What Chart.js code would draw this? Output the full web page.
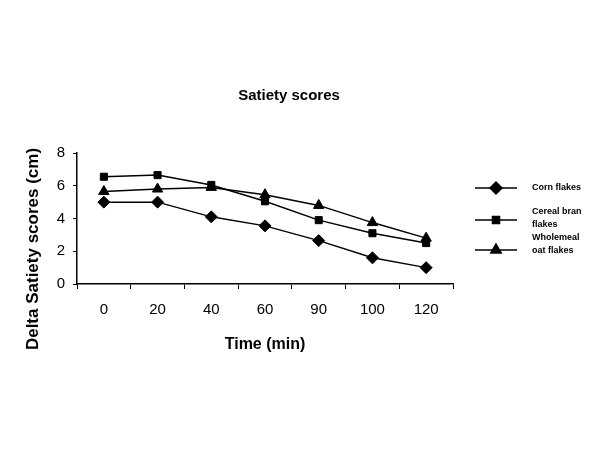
<!DOCTYPE html>
<html>
<head>
<meta charset="utf-8">
<script src="https://cdn.jsdelivr.net/npm/chart.js@4"></script>
<style>
  body { margin: 0; background: #fff; }
  #wrap { width: 600px; height: 450px; }
</style>
</head>
<body>
<div id="wrap"><canvas id="chart" width="600" height="450"></canvas></div>
<script>
// data
const times = ['0', '20', '40', '60', '90', '100', '120'];
const cornFlakes = [5.0, 5.0, 4.1, 3.55, 2.65, 1.6, 1.0];
const cerealBran = [6.55, 6.65, 6.05, 5.05, 3.9, 3.1, 2.5];
const wholemealOat = [5.65, 5.8, 5.9, 5.45, 4.8, 3.75, 2.8];
const legendLines = [['Corn flakes'], ['Cereal bran', 'flakes'], ['Wholemeal', 'oat flakes']];

const font = "Arial, 'Liberation Sans', sans-serif";

function makeSet(label, data, style) {
  return {
    label: label,
    data: data,
    borderColor: '#000',
    backgroundColor: '#000',
    borderWidth: 1.5,
    pointStyle: style,
    pointRadius: style === 'rect' ? 5 : 6,
    pointBorderWidth: 1,
    tension: 0
  };
}

// titles and legend drawn by hand, the original has them off-centre
const extras = {
  id: 'extras',
  afterDraw(chart) {
    const ctx = chart.ctx;
    ctx.save();
    ctx.fillStyle = '#000';
    ctx.textAlign = 'center';
    ctx.textBaseline = 'middle';
    ctx.font = 'bold 15px ' + font;
    ctx.fillText('Satiety scores', 289, 96);
    ctx.font = 'bold 16px ' + font;
    ctx.fillText('Time (min)', 265, 345);
    ctx.save();
    ctx.translate(33, 249);
    ctx.rotate(-Math.PI / 2);
    ctx.font = 'bold 17px ' + font;
    ctx.fillText('Delta Satiety scores (cm)', 0, 0);
    ctx.restore();
    ctx.restore();

    const rows = [188, 220, 250];
    const textY = [[188], [212, 225], [238, 251]];
    chart.data.datasets.forEach((ds, i) => {
      const y = rows[i];
      ctx.save();
      ctx.strokeStyle = '#000';
      ctx.lineWidth = 1.5;
      ctx.beginPath();
      ctx.moveTo(475, y);
      ctx.lineTo(517, y);
      ctx.stroke();
      Chart.helpers.drawPoint(ctx, {
        pointStyle: ds.pointStyle, radius: ds.pointRadius, borderWidth: 1
      }, 496, y);
      ctx.fillStyle = '#000';
      ctx.font = 'bold 9px ' + font;
      ctx.textBaseline = 'middle';
      legendLines[i].forEach((t, k) => ctx.fillText(t, 532, textY[i][k]));
      ctx.restore();
    });
  }
};

new Chart(document.getElementById('chart'), {
  type: 'line',
  data: {
    labels: times,
    datasets: [
      makeSet('Corn flakes', cornFlakes, 'rectRot'),
      makeSet('Cereal bran flakes', cerealBran, 'rect'),
      makeSet('Wholemeal oat flakes', wholemealOat, 'triangle')
    ]
  },
  options: {
    responsive: false,
    animation: false,
    layout: { padding: { top: 153, right: 147, bottom: 126, left: 47 } },
    plugins: {
      legend: { display: false },
      tooltip: { enabled: false },
      title: { display: false }
    },
    scales: {
      x: {
        offset: true,
        afterFit(scale) { scale.height = 40; },
        grid: { offset: true, drawOnChartArea: false, color: '#000', tickLength: 5, tickColor: '#000' },
        border: { color: '#000', width: 1.5 },
        ticks: { color: '#000', font: { family: font, size: 15 }, padding: 12, maxRotation: 0 }
      },
      y: {
        min: 0, max: 8,
        afterFit(scale) { scale.width = 30; },
        grid: { drawOnChartArea: false, color: '#000', tickLength: 4, tickColor: '#000' },
        border: { color: '#000', width: 1.5 },
        ticks: { stepSize: 2, color: '#000', font: { family: font, size: 15 }, padding: 8 }
      }
    }
  },
  plugins: [extras]
});
</script>
</body>
</html>
